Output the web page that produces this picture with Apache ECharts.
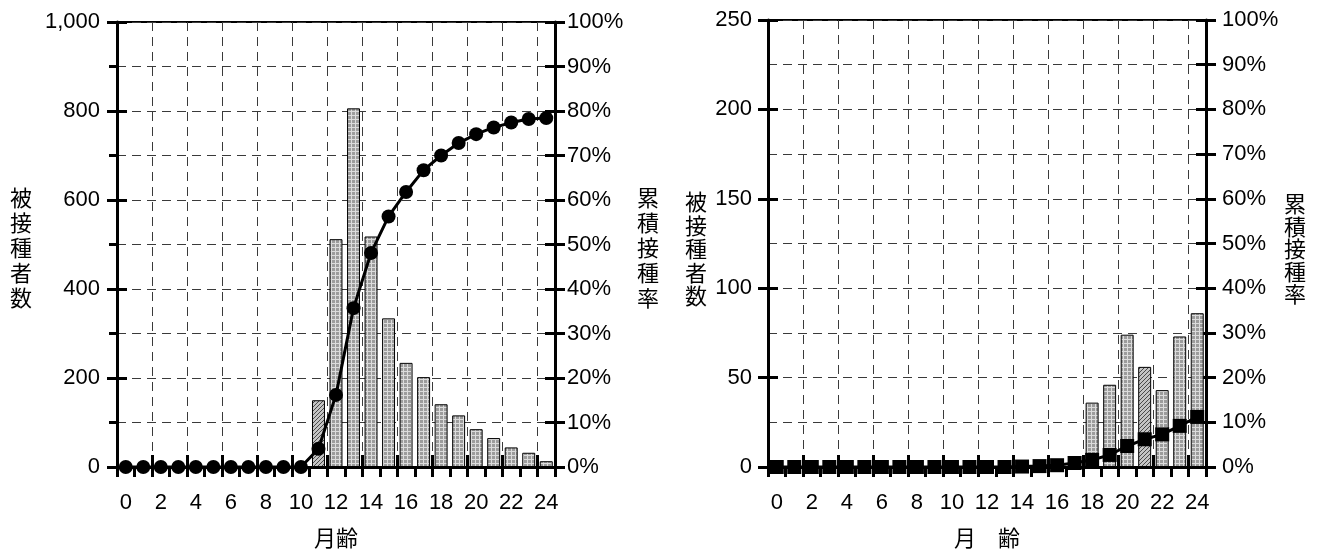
<!DOCTYPE html>
<html><head><meta charset="utf-8">
<script src="https://cdn.jsdelivr.net/npm/echarts@6/dist/echarts.min.js"></script>
<style>html,body{margin:0;padding:0;background:#fff}#c{width:1319px;height:554px}</style>
</head><body><div id="c"></div>
<script>
// ---- data ----
const months = ['0','1','2','3','4','5','6','7','8','9','10','11','12','13','14','15','16','17','18','19','20','21','22','23','24'];
const leftCounts = [0,0,0,0,0,0,0,0,0,0,0,150,512,806,518,334,234,202,141,116,85,65,44,32,13];
const leftCumPct = [0,0,0,0,0,0,0,0,0,0,0,4.1,16.2,35.7,48.1,56.3,61.8,66.7,70.0,72.8,74.8,76.3,77.4,78.2,78.4];
const rightCounts = [0,0,0,0,0,0,0,0,0,0,0,0,0,0,0,0,1,6,36,46,74,56,43,73,86];
const rightCumPct = [0,0,0,0,0,0,0,0,0,0,0,0,0,0,0.1,0.2,0.4,0.9,1.6,2.7,4.7,6.2,7.3,9.2,11.2];
const countNameText = '被接種者数';
const pctNameText = '累積接種率';
const leftXName = '月齢';
const rightXName = '月　齢';

// ---- styling helpers ----
const FONT = 'Liberation Sans, Arial, sans-serif';
const CJK = 'Noto Sans CJK JP, sans-serif';

function gridPattern() {
  const c = document.createElement('canvas');
  c.width = 4; c.height = 4;
  const g = c.getContext('2d');
  g.fillStyle = '#9c9c9c'; g.fillRect(0,0,4,4);
  g.fillStyle = '#dcdcdc'; g.fillRect(0,3,4,1); g.fillRect(3,0,1,4);
  return c;
}
function diagPattern() {
  const c = document.createElement('canvas');
  c.width = 4; c.height = 4;
  const g = c.getContext('2d');
  g.fillStyle = '#c4c4c4'; g.fillRect(0,0,4,4);
  g.fillStyle = '#4a4a4a';
  for (let i = 0; i < 4; i++) g.fillRect(i, 3 - i, 1, 1);
  return c;
}
const barFill = {image: gridPattern(), repeat: 'repeat'};
const diagFill = {image: diagPattern(), repeat: 'repeat'};
const dash = {type:[9,6], color:'#3a3a3a', width:1};
const blk = {color:'#000', width:3};

function styledBars(values, hatchIndex) {
  return values.map((v, i) => i === hatchIndex ? {value:v, itemStyle:{color:diagFill}} : v);
}

function buildAxes(g, cfg) {
  const xAxes = [
    {type:'category', gridIndex:g, data:months, boundaryGap:true,
     axisLine:{show:true, lineStyle:blk},
     axisTick:{show:true, interval:0, length:10, lineStyle:blk},
     axisLabel:{interval:1, margin:25, fontSize:22, color:'#000', fontFamily:FONT},
     splitLine:{show:false},
     name:cfg.xName, nameLocation:'middle', nameGap:60,
     nameTextStyle:{fontSize:22, color:'#000', fontFamily:CJK}},
    {type:'category', gridIndex:g, data:months, boundaryGap:true, position:'bottom',
     axisLine:{show:false},
     axisTick:{show:true, inside:true, interval:1, length:12, lineStyle:blk},
     axisLabel:{show:false},
     splitLine:{show:true, interval:1, lineStyle:dash}}
  ];
  const yAxes = [
    {type:'value', gridIndex:g, position:'left', min:0, max:cfg.countMax, interval:cfg.countInterval,
     axisLine:{show:true, lineStyle:blk},
     axisTick:{show:true, length:10, lineStyle:blk},
     minorTick:{show:cfg.minorTicks, splitNumber:2, length:8, lineStyle:blk},
     splitLine:{show:true, lineStyle:dash},
     minorSplitLine:{show:true, lineStyle:dash},
     axisLabel:{margin:cfg.countMargin, fontSize:22, color:'#000', fontFamily:FONT,
       formatter:v => v.toLocaleString('en-US')}},
    {type:'value', gridIndex:g, position:'left', min:0, max:cfg.countMax, interval:cfg.countInterval,
     axisLine:{show:false}, axisTick:{show:true, inside:true, length:10, lineStyle:blk},
     axisLabel:{show:false}, splitLine:{show:false}},
    {type:'value', gridIndex:g, position:'right', min:0, max:100, interval:10,
     axisLine:{show:true, lineStyle:blk},
     axisTick:{show:true, length:10, lineStyle:blk},
     splitLine:{show:false},
     axisLabel:{margin:cfg.pctMargin, fontSize:22, color:'#000', fontFamily:FONT, formatter:'{value}%'}},
    {type:'value', gridIndex:g, position:'right', min:0, max:100, interval:10,
     axisLine:{show:false}, axisTick:{show:true, inside:true, length:10, lineStyle:blk},
     axisLabel:{show:false}, splitLine:{show:false}}
  ];
  return {xAxes, yAxes};
}

const A = buildAxes(0, {xName:leftXName, countMax:1000, countInterval:200, minorTicks:true, countMargin:17, pctMargin:12});
const B = buildAxes(1, {xName:rightXName, countMax:250, countInterval:50, minorTicks:false, countMargin:16, pctMargin:16});

function vText(x, y, text, lh) {
  return {type:'text', x:x, y:y, style:{text:text.split('').join('\n'), font:'22px ' + CJK,
    fill:'#000', align:'center', verticalAlign:'middle', lineHeight:lh}};
}

const option = {
  animation:false,
  backgroundColor:'#fff',
  grid:[
    {left:117, width:438, top:22, height:449, show:true, borderColor:'#000', borderWidth:2, backgroundColor:'transparent'},
    {left:768, width:438, top:20, height:454, show:true, borderColor:'#000', borderWidth:2, backgroundColor:'transparent'}
  ],
  xAxis:[...A.xAxes, ...B.xAxes],
  yAxis:[...A.yAxes, ...B.yAxes],
  graphic:[
    vText(21, 248, countNameText, 25),
    vText(648, 248, pctNameText, 25),
    vText(696, 249, countNameText, 23.5),
    vText(1295, 249, pctNameText, 22.5)
  ],
  series:[
    {type:'bar', xAxisIndex:0, yAxisIndex:0, data:styledBars(leftCounts, 11), barWidth:'74%',
     itemStyle:{color:barFill, borderColor:'#000', borderWidth:1}, z:2},
    {type:'line', xAxisIndex:0, yAxisIndex:2, data:leftCumPct, symbol:'circle', symbolSize:14, showAllSymbol:true,
     lineStyle:{color:'#000', width:3}, itemStyle:{color:'#000'}, z:5},
    {type:'bar', xAxisIndex:2, yAxisIndex:4, data:styledBars(rightCounts, 21), barWidth:'74%',
     itemStyle:{color:barFill, borderColor:'#000', borderWidth:1}, z:2},
    {type:'line', xAxisIndex:2, yAxisIndex:6, data:rightCumPct, symbol:'rect', symbolSize:14, showAllSymbol:true,
     lineStyle:{color:'#000', width:3}, itemStyle:{color:'#000'}, z:5}
  ]
};
const chart = echarts.init(document.getElementById('c'), null, {renderer:'canvas'});
chart.setOption(option);
</script>
</body></html>
